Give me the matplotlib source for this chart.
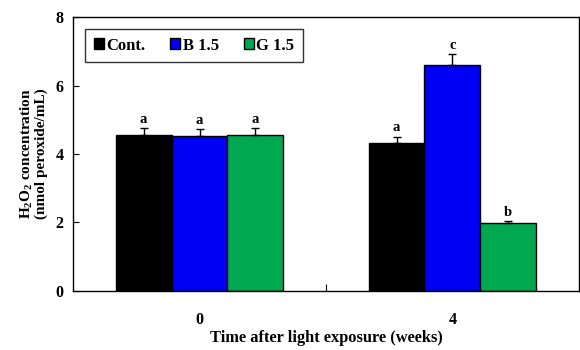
import matplotlib
matplotlib.use("Agg")
import matplotlib.pyplot as plt
import numpy as np
from matplotlib.patches import Patch

plt.rcParams['font.family'] = ['Liberation Serif', 'DejaVu Serif']
plt.rcParams['font.weight'] = 'bold'
plt.rcParams['mathtext.fontset'] = 'custom'
plt.rcParams['mathtext.rm'] = 'Liberation Serif:bold'
plt.rcParams['mathtext.default'] = 'rm'

# data
weeks = ['0', '4']
series = ['Cont.', 'B 1.5', 'G 1.5']
values = {
    'Cont.': [4.55, 4.31],
    'B 1.5': [4.53, 6.60],
    'G 1.5': [4.56, 1.98],
}
errors = {
    'Cont.': [0.22, 0.20],
    'B 1.5': [0.19, 0.32],
    'G 1.5': [0.21, 0.06],
}
letters = {
    'Cont.': ['a', 'a'],
    'B 1.5': ['a', 'c'],
    'G 1.5': ['a', 'b'],
}
colors = ['#000000', '#0000f5', '#00a84f']

fig = plt.figure(figsize=(5.8, 3.5), dpi=100)
ax = fig.add_axes([0.126, 0.169, 0.872, 0.782])

centers = np.array([0.5, 1.5])
w = 0.221
for i, (name, col) in enumerate(zip(series, colors)):
    x = centers + (i - 1) * w
    v = np.array(values[name])
    e = np.array(errors[name])
    ax.bar(x, v, width=w, color=col, edgecolor='black', linewidth=1.0, zorder=2)
    ax.errorbar(x, v, yerr=[np.zeros_like(e), e], fmt='none', ecolor='black',
                elinewidth=1.0, capsize=3, capthick=1.0, zorder=3)
    for xi, vi, ei, lab in zip(x, v, e, letters[name]):
        ax.text(xi, vi + ei + 0.06, lab, ha='center', va='bottom',
                fontsize=10.5, fontweight='bold')

ax.set_xlim(0, 2)
ax.set_ylim(0, 8)
ax.set_yticks([0, 2, 4, 6, 8])
ax.set_xticks([1])
ax.set_xticklabels([''])
ax.set_xticks(centers, minor=True)
ax.set_xticklabels(weeks, minor=True)
ax.tick_params(axis='x', which='minor', length=0, pad=15, labelsize=11.5)
ax.tick_params(axis='x', which='major', direction='in', length=5, width=0.8)
ax.tick_params(axis='y', direction='in', length=4, width=0.8, labelsize=11.5, pad=7)
for s in ax.spines.values():
    s.set_linewidth(1.0)

ax.set_xlabel('Time after light exposure (weeks)', fontsize=11.8, fontweight='bold', labelpad=2)
ax.set_ylabel('H$_2$O$_2$ concentration\n(nmol peroxide/mL)', fontsize=11,
              fontweight='bold', labelpad=5, linespacing=1.0)

handles = [Patch(facecolor=c, edgecolor='black', linewidth=1.0) for c in colors]
leg = ax.legend(handles, series, ncol=3, loc='upper left', bbox_to_anchor=(0.024, 0.956),
                frameon=True, fancybox=False, edgecolor='black', fontsize=12,
                handlelength=0.6, handleheight=0.6, handletextpad=0.15,
                columnspacing=1.5, borderpad=0.5, borderaxespad=0)
leg.get_frame().set_linewidth(1.0)

fig.savefig('out.png', dpi=100)
